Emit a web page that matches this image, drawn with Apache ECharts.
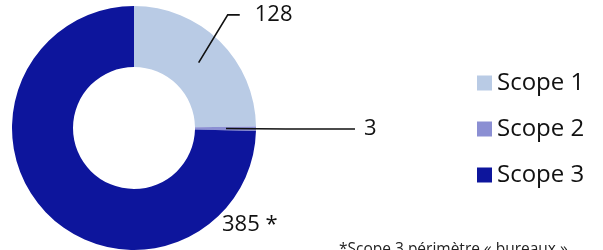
<!DOCTYPE html>
<html>
<head>
<meta charset="utf-8">
<script src="https://cdn.jsdelivr.net/npm/echarts@6/dist/echarts.min.js"></script>
<style>
  html, body { margin: 0; padding: 0; background: #fff; }
  #chart { width: 603px; height: 250px; }
</style>
</head>
<body>
<div id="chart"></div>
<script>
var categories = ['Scope 1', 'Scope 2', 'Scope 3'];
var values = [128, 3, 385];
var labelTexts = ['128', '3', '385 *'];
var colors = ['#b9cbe5', '#8b8fd3', '#0d159c'];
var footnote = '*Scope 3 périmètre « bureaux »';

var font = '"Open Sans", sans-serif';

// ring
var ringData = categories.map(function (name, i) {
    return { name: name, value: values[i], itemStyle: { color: colors[i] } };
});

// invisible inner pie that only carries labels (line starts mid-ring)
var labelData = categories.map(function (name, i) {
    var item = { name: name, value: values[i] };
    if (i === 0) {
        item.labelLine = { length: 67, length2: 0 };
    } else if (i === 1) {
        item.labelLine = { length: 60, length2: 69 };
    } else {
        item.labelLine = { show: false };
    }
    return item;
});

var myChart = echarts.init(document.getElementById('chart'));
myChart.setOption({
    animation: false,
    title: {
        text: footnote,
        left: 339,
        top: 242,
        padding: 0,
        textStyle: { fontFamily: font, fontSize: 15.5, fontWeight: 'normal', color: '#222' }
    },
    legend: {
        orient: 'vertical',
        left: 477,
        top: 71,
        padding: 0,
        icon: 'rect',
        itemWidth: 15,
        itemHeight: 15,
        itemGap: 22,
        data: categories,
        textStyle: { fontFamily: font, fontSize: 24, color: '#111' }
    },
    series: [
        {
            name: 'ring',
            type: 'pie',
            z: 1,
            radius: [61, 122],
            center: [134, 128],
            startAngle: 90,
            silent: true,
            avoidLabelOverlap: false,
            label: { show: false },
            labelLine: { show: false },
            data: ringData
        },
        {
            name: 'labels',
            type: 'pie',
            z: 5,
            radius: [0, 92],
            center: [134, 128],
            startAngle: 90,
            silent: true,
            avoidLabelOverlap: false,
            itemStyle: { color: 'rgba(0,0,0,0)' },
            label: {
                show: true,
                position: 'outside',
                distanceToLabelLine: 9,
                fontFamily: font,
                fontSize: 22,
                color: '#111',
                formatter: function (p) { return labelTexts[p.dataIndex]; }
            },
            labelLine: {
                show: true,
                lineStyle: { color: '#111', width: 1.6 }
            },
            labelLayout: function (params) {
                var pts = params.labelLinePoints;
                if (params.dataIndex === 0 && pts) {
                    var end = pts[2];
                    return {
                        labelLinePoints: [pts[0], [end[0] - 18, end[1]], [end[0] - 6, end[1]]]
                    };
                }
                if (params.dataIndex === 2) {
                    return { x: 222, y: 225, align: 'left', verticalAlign: 'middle' };
                }
                return {};
            },
            data: labelData
        }
    ]
});
</script>
</body>
</html>
